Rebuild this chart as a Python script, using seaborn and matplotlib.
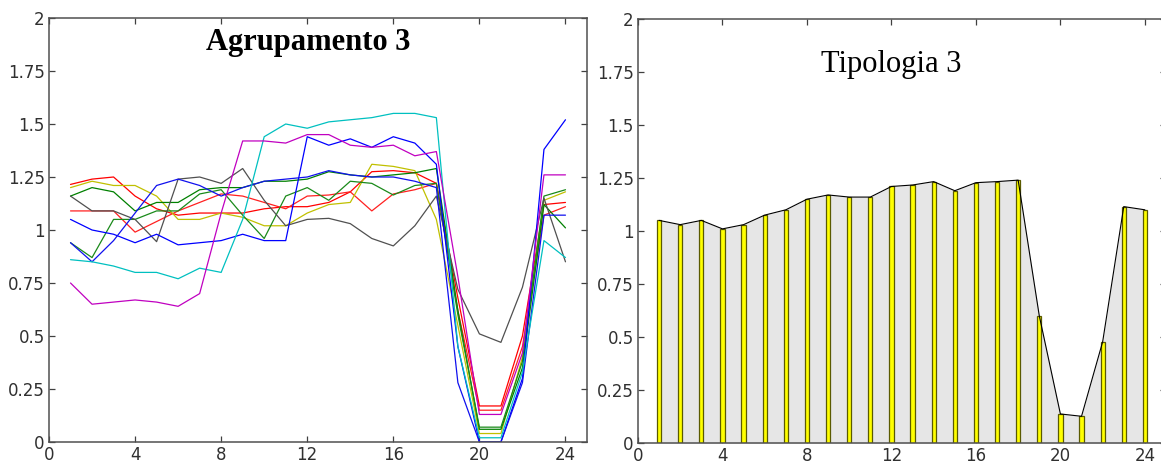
import numpy as np
import pandas as pd
import matplotlib
matplotlib.use("Agg")
import matplotlib.pyplot as plt
import seaborn as sns

hours = list(range(1, 25))

# Agrupamento 3 - individual profiles
red1 = [1.215, 1.24, 1.25, 1.16, 1.10, 1.07, 1.08, 1.08, 1.08, 1.10, 1.11, 1.11,
        1.13, 1.18, 1.275, 1.28, 1.27, 1.22, 0.68, 0.17, 0.17, 0.50, 1.12, 1.13]
red2 = [1.09, 1.09, 1.09, 0.99, 1.04, 1.09, 1.13, 1.17, 1.16, 1.13, 1.10, 1.16,
        1.165, 1.18, 1.09, 1.17, 1.19, 1.22, 0.62, 0.15, 0.15, 0.45, 1.07, 1.11]
yellow = [1.20, 1.23, 1.21, 1.21, 1.16, 1.05, 1.05, 1.08, 1.06, 1.02, 1.02, 1.08,
          1.12, 1.13, 1.31, 1.30, 1.28, 1.05, 0.55, 0.04, 0.04, 0.40, 1.14, 1.18]
green1 = [1.16, 1.20, 1.18, 1.09, 1.13, 1.13, 1.19, 1.20, 1.20, 1.23, 1.23, 1.24,
          1.275, 1.26, 1.25, 1.26, 1.27, 1.29, 0.62, 0.06, 0.06, 0.35, 1.12, 1.01]
green2 = [0.94, 0.87, 1.05, 1.05, 1.09, 1.09, 1.17, 1.19, 1.07, 0.96, 1.16, 1.20,
          1.14, 1.23, 1.22, 1.165, 1.21, 1.22, 0.60, 0.07, 0.07, 0.38, 1.16, 1.19]
gray = [1.16, 1.09, 1.09, 1.05, 0.945, 1.24, 1.25, 1.22, 1.29, 1.14, 1.02, 1.05,
        1.055, 1.03, 0.96, 0.925, 1.02, 1.16, 0.72, 0.51, 0.47, 0.73, 1.15, 0.85]
blue1 = [1.05, 1.00, 0.98, 0.94, 0.98, 0.93, 0.94, 0.95, 0.98, 0.95, 0.95, 1.44,
         1.40, 1.43, 1.39, 1.44, 1.41, 1.31, 0.45, 0.0, 0.0, 0.30, 1.38, 1.52]
blue2 = [0.94, 0.85, 0.95, 1.08, 1.21, 1.24, 1.21, 1.16, 1.20, 1.23, 1.24, 1.25,
         1.28, 1.26, 1.25, 1.25, 1.23, 1.20, 0.28, 0.0, 0.0, 0.28, 1.07, 1.07]
cyan = [0.86, 0.85, 0.83, 0.80, 0.80, 0.77, 0.82, 0.80, 1.05, 1.44, 1.50, 1.48,
        1.51, 1.52, 1.53, 1.55, 1.55, 1.53, 0.45, 0.02, 0.02, 0.33, 0.95, 0.87]
magenta = [0.75, 0.65, 0.66, 0.67, 0.66, 0.64, 0.70, 1.08, 1.42, 1.42, 1.41, 1.45,
           1.45, 1.40, 1.39, 1.40, 1.35, 1.37, 0.78, 0.13, 0.13, 0.42, 1.26, 1.26]

series_names = ["red1", "red2", "yellow", "green1", "green2", "gray",
                "blue1", "blue2", "cyan", "magenta"]
series_values = [red1, red2, yellow, green1, green2, gray,
                 blue1, blue2, cyan, magenta]
series_colors = ["#ff0000", "#ff2020", "#c0c000", "#008000", "#1a8a1a", "#505050",
                 "#0000ff", "#1010ee", "#00c0c0", "#c000c0"]

# Tipologia 3 - typical profile
tipologia = [1.05, 1.03, 1.05, 1.01, 1.03, 1.075, 1.10, 1.15, 1.17, 1.16, 1.16, 1.21,
             1.217, 1.233, 1.19, 1.228, 1.233, 1.24, 0.60, 0.137, 0.126, 0.477, 1.115, 1.10]

y_ticks = [0, 0.25, 0.5, 0.75, 1, 1.25, 1.5, 1.75, 2]
y_ticklabels = ["0", "0.25", "0.5", "0.75", "1", "1.25", "1.5", "1.75", "2"]
x_ticks = [0, 4, 8, 12, 16, 20, 24]
x_ticklabels = ["0", "4", "8", "12", "16", "20", "24"]

sns.set_theme(style="white")
plt.rcParams["font.family"] = ["DejaVu Sans"]

W, H = 1161, 472
fig = plt.figure(figsize=(W / 100, H / 100), dpi=100)
fig.patch.set_facecolor("white")

def frac(l, t, r, b):
    return [l / W, 1 - b / H, (r - l) / W, (b - t) / H]

ax1 = fig.add_axes(frac(49, 18, 587, 442))
ax2 = fig.add_axes(frac(638, 19, 1166, 443))

df = pd.DataFrame({
    "hour": hours * len(series_names),
    "value": sum(series_values, []),
    "serie": np.repeat(series_names, len(hours)),
})
sns.lineplot(data=df, x="hour", y="value", hue="serie",
             palette=dict(zip(series_names, series_colors)),
             linewidth=0.9, ax=ax1, legend=False, estimator=None, sort=False)

# right panel: filled area + bars
ax2.fill_between(hours, tipologia, 0, color="#e6e6e6", zorder=1, linewidth=0)
sns.lineplot(x=hours, y=tipologia, color="black", linewidth=0.8, ax=ax2, zorder=3)
sns.barplot(x=hours, y=tipologia, native_scale=True, width=0.2,
            color="#ffff00", edgecolor="#5a5a00", linewidth=0.9,
            saturation=1, ax=ax2, zorder=2)

for ax in (ax1, ax2):
    ax.set_xlim(0, 25)
    ax.set_ylim(0, 2)
    ax.set_xticks(x_ticks)
    ax.set_xticklabels(x_ticklabels)
    ax.set_yticks(y_ticks)
    ax.set_yticklabels(y_ticklabels)
    ax.set_xlabel("")
    ax.set_ylabel("")
    ax.set_facecolor("white")
    ax.tick_params(direction="in", length=4, width=0.9, color="#404040",
                   labelsize=12, labelcolor="#303030", top=True, right=True,
                   bottom=True, left=True, pad=3)
    for s in ax.spines.values():
        s.set_visible(True)
        s.set_color("#505050")
        s.set_linewidth(1.1)

ax1.text(12.05, 1.85, "Agrupamento 3", ha="center", va="baseline",
         fontsize=22, fontweight="bold", family=["Liberation Serif"], color="black")
ax2.text(12.0, 1.75, "Tipologia 3", ha="center", va="baseline",
         fontsize=22, family=["Liberation Serif"], color="black")

fig.savefig("out.png", dpi=100, facecolor="white")
